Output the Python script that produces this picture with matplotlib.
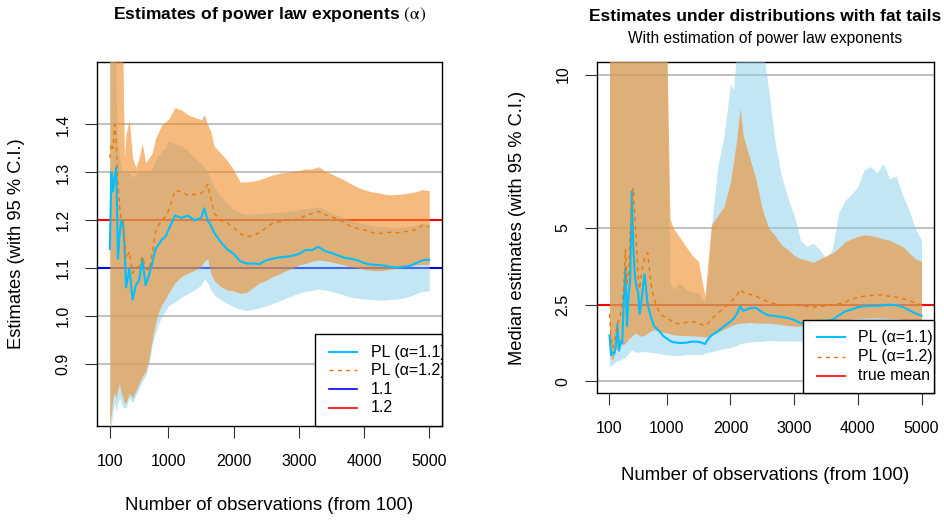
## Estimates with confidence bands

# Imports

import numpy as np
import matplotlib.pyplot as plt
from matplotlib.patches import Rectangle

plt.rcParams['font.family'] = ['Liberation Sans', 'DejaVu Sans']
plt.rcParams['mathtext.fontset'] = 'stix'

# Data: left panel (power law exponents)

nL = [100, 125, 150, 175, 200, 225, 250, 275, 300, 325,
      350, 400, 450, 500, 550, 600, 650, 700, 750, 800, 850, 900, 950, 1000,
      1100, 1200, 1300, 1400, 1500, 1550, 1600, 1650, 1700,
      1800, 1900, 2000, 2100, 2200, 2300, 2400, 2500, 2600, 2700, 2800, 2900, 3000,
      3100, 3200, 3300, 3400, 3500, 3600, 3700, 3800, 3900, 4000, 4100, 4200, 4300,
      4400, 4500, 4600, 4700, 4800, 4900, 5000]

alpha11 = [1.14, 1.30, 1.26, 1.29, 1.31, 1.12, 1.17, 1.20, 1.20, 1.15,
           1.06, 1.10, 1.035, 1.065, 1.075, 1.12, 1.065, 1.085, 1.11, 1.14, 1.15, 1.16, 1.165, 1.18,
           1.21, 1.205, 1.21, 1.20, 1.205, 1.225, 1.20, 1.19, 1.175,
           1.155, 1.14, 1.13, 1.115, 1.11, 1.11, 1.109, 1.117, 1.12, 1.123, 1.124, 1.126, 1.13,
           1.138, 1.138, 1.145, 1.136, 1.132, 1.127, 1.122, 1.12, 1.117, 1.111, 1.108, 1.107, 1.106,
           1.103, 1.102, 1.103, 1.105, 1.111, 1.117, 1.118]
alpha11_lo = [0.75, 0.78, 0.80, 0.82, 0.80, 0.82, 0.83, 0.82, 0.81, 0.81,
              0.81, 0.83, 0.82, 0.835, 0.85, 0.865, 0.875, 0.90, 0.94, 0.965, 0.985, 1.0, 1.01, 1.022,
              1.03, 1.04, 1.047, 1.055, 1.065, 1.078, 1.07, 1.055, 1.045,
              1.035, 1.027, 1.02, 1.015, 1.012, 1.015, 1.018, 1.022, 1.027, 1.032, 1.038, 1.043, 1.048,
              1.052, 1.054, 1.057, 1.055, 1.052, 1.048, 1.044, 1.04, 1.038, 1.036, 1.035, 1.034, 1.034,
              1.035, 1.036, 1.038, 1.042, 1.047, 1.052, 1.053]
alpha11_hi = [1.70, 1.70, 1.70, 1.70, 1.45, 1.36, 1.33, 1.31, 1.30, 1.30,
              1.30, 1.30, 1.29, 1.295, 1.305, 1.30, 1.30, 1.30, 1.31, 1.325, 1.335, 1.345, 1.35, 1.365,
              1.36, 1.355, 1.345, 1.33, 1.32, 1.31, 1.30, 1.285, 1.27,
              1.25, 1.235, 1.222, 1.216, 1.213, 1.213, 1.214, 1.215, 1.216, 1.217, 1.218, 1.22, 1.222,
              1.225, 1.226, 1.228, 1.222, 1.215, 1.21, 1.205, 1.20, 1.196, 1.193, 1.19, 1.188, 1.187,
              1.186, 1.186, 1.186, 1.188, 1.19, 1.193, 1.193]

alpha12 = [1.33, 1.36, 1.35, 1.40, 1.36, 1.28, 1.23, 1.20, 1.20, 1.16,
           1.12, 1.135, 1.09, 1.10, 1.105, 1.125, 1.10, 1.095, 1.13, 1.175, 1.19, 1.20, 1.207, 1.22,
           1.262, 1.26, 1.252, 1.254, 1.256, 1.262, 1.275, 1.245, 1.215,
           1.20, 1.195, 1.185, 1.172, 1.166, 1.168, 1.175, 1.185, 1.194, 1.197, 1.20, 1.201, 1.203,
           1.21, 1.214, 1.219, 1.212, 1.207, 1.203, 1.195, 1.187, 1.183, 1.18, 1.176, 1.172, 1.174,
           1.175, 1.174, 1.176, 1.178, 1.181, 1.19, 1.186]
alpha12_lo = [0.77, 0.80, 0.83, 0.84, 0.83, 0.85, 0.86, 0.84, 0.83, 0.82,
              0.82, 0.84, 0.83, 0.845, 0.86, 0.875, 0.885, 0.91, 0.95, 0.985, 1.01, 1.025, 1.035, 1.048,
              1.07, 1.083, 1.09, 1.096, 1.103, 1.115, 1.12, 1.09, 1.075,
              1.062, 1.055, 1.053, 1.048, 1.05, 1.06, 1.07, 1.075, 1.083, 1.088, 1.095, 1.10, 1.107,
              1.11, 1.115, 1.117, 1.116, 1.113, 1.11, 1.107, 1.103, 1.101, 1.098, 1.096, 1.095, 1.096,
              1.098, 1.10, 1.102, 1.105, 1.107, 1.108, 1.108]
alpha12_hi = [1.70, 1.70, 1.70, 1.70, 1.70, 1.70, 1.70, 1.65, 1.55, 1.33,
              1.38, 1.41, 1.33, 1.31, 1.33, 1.36, 1.32, 1.33, 1.34, 1.37, 1.385, 1.40, 1.405, 1.41,
              1.435, 1.43, 1.42, 1.415, 1.41, 1.42, 1.40, 1.385, 1.355,
              1.34, 1.325, 1.305, 1.28, 1.28, 1.282, 1.285, 1.29, 1.295, 1.298, 1.30, 1.302, 1.304,
              1.307, 1.307, 1.312, 1.303, 1.297, 1.29, 1.284, 1.276, 1.269, 1.264, 1.26, 1.258, 1.255,
              1.253, 1.254, 1.255, 1.257, 1.26, 1.264, 1.262]

# Data: right panel (median estimates)

nR = [100, 125, 150, 175, 200, 225, 250, 275, 300, 325, 350, 375, 400, 425, 450, 475,
      500, 525, 550, 575, 600,
      650, 700, 750, 800, 850, 900, 950, 1000, 1050, 1100,
      1200, 1300, 1400, 1500, 1550, 1600, 1650, 1700,
      1800, 1900, 2000, 2050, 2100, 2150, 2200,
      2300, 2400, 2500, 2600, 2700, 2800, 2900, 3000, 3100, 3200, 3300, 3400, 3500, 3600,
      3700, 3800, 3900, 4000, 4100, 4200, 4300, 4400, 4500, 4600, 4700, 4800, 4900, 5000]

med11 = [1.5, 0.85, 0.95, 0.9, 1.15, 1.85, 1.0, 1.3, 1.25, 2.6, 3.7, 1.8, 2.8, 3.3, 6.2, 4.3,
         3.4, 3.1, 2.9, 2.2, 2.6,
         3.5, 2.5, 2.1, 1.8, 1.7, 1.6, 1.47, 1.4, 1.32, 1.28,
         1.25, 1.26, 1.3, 1.29, 1.26, 1.22, 1.38, 1.5,
         1.63, 1.8, 1.95, 2.05, 2.2, 2.45, 2.3,
         2.38, 2.4, 2.25, 2.15, 2.13, 2.1, 2.07, 2.0, 1.9, 1.88, 1.92, 1.98, 1.97, 2.0,
         2.15, 2.28, 2.34, 2.42, 2.45, 2.46, 2.46, 2.48, 2.5, 2.48, 2.43, 2.33, 2.22, 2.14]
med11_lo = [0.49, 0.52, 0.55, 0.6, 0.65, 0.66, 0.68, 0.7, 0.73, 0.75, 0.8, 0.85, 0.92, 0.98, 1.03, 1.0,
            0.97, 0.95, 0.94, 0.96, 0.97,
            0.97, 0.96, 0.95, 0.93, 0.92, 0.9, 0.88, 0.87, 0.86, 0.84,
            0.84, 0.87, 0.88, 0.87, 0.88, 0.92, 0.95, 0.97,
            1.02, 1.07, 1.1, 1.13, 1.18, 1.23, 1.25,
            1.28, 1.3, 1.31, 1.33, 1.33, 1.32, 1.32, 1.32, 1.31, 1.3, 1.3, 1.31, 1.32, 1.33,
            1.35, 1.37, 1.38, 1.4, 1.4, 1.41, 1.41, 1.4, 1.4, 1.39, 1.38, 1.37, 1.36, 1.35]
med11_hi = [11, 11, 11, 11, 11, 11, 11, 11, 11, 11, 11, 11, 11, 11, 11, 11,
            11, 11, 11, 11, 11,
            11, 11, 11, 11, 11, 11, 11, 11, 3.2, 3.0,
            3.2, 3.0, 2.9, 2.9, 2.7, 2.6, 3.5, 5.0,
            7.0, 8.0, 9.7, 9.5, 11, 11, 11,
            11, 11, 11, 9.5, 7.8, 6.7, 6.0, 5.4, 4.6, 4.4, 4.5, 4.3, 4.0, 4.3,
            5.5, 5.9, 6.1, 6.35, 6.9, 7.0, 6.8, 7.1, 6.6, 6.7, 6.1, 5.6, 5.0, 4.6]

med12 = [2.2, 1.4, 1.1, 1.3, 1.55, 1.9, 2.0, 2.2, 2.6, 3.1, 4.3, 3.2, 3.5, 4.8, 5.9, 6.3,
         5.3, 4.4, 3.4, 3.0, 3.5,
         4.0, 4.2, 3.2, 2.7, 2.4, 2.2, 2.12, 2.07, 2.0, 1.9,
         1.88, 1.92, 1.95, 1.9, 1.85, 1.8, 1.9, 2.02,
         2.23, 2.39, 2.6, 2.68, 2.8, 3.0, 2.9,
         2.84, 2.78, 2.68, 2.58, 2.53, 2.48, 2.48, 2.5, 2.46, 2.44, 2.42, 2.44, 2.47, 2.5,
         2.53, 2.58, 2.68, 2.73, 2.78, 2.8, 2.83, 2.81, 2.77, 2.75, 2.7, 2.64, 2.56, 2.5]
med12_lo = [0.92, 0.75, 0.7, 0.85, 1.03, 1.05, 1.1, 1.15, 1.2, 1.22, 1.25, 1.3, 1.4, 1.42, 1.47, 1.52,
            1.58, 1.55, 1.52, 1.5, 1.47,
            1.5, 1.58, 1.65, 1.68, 1.66, 1.63, 1.6, 1.58, 1.55, 1.52,
            1.5, 1.49, 1.49, 1.47, 1.46, 1.45, 1.45, 1.5,
            1.6, 1.7, 1.8, 1.85, 1.88, 1.9, 1.9,
            1.92, 1.9, 1.9, 1.9, 1.88, 1.85, 1.82, 1.8, 1.8, 1.8, 1.8, 1.82, 1.85, 1.9,
            1.95, 2.0, 2.03, 2.05, 2.06, 2.07, 2.07, 2.06, 2.05, 2.04, 2.02, 2.0, 1.98, 1.95]
med12_hi = [11, 11, 11, 11, 11, 11, 11, 11, 11, 11, 11, 11, 11, 11, 11, 11,
            11, 11, 11, 11, 11,
            11, 11, 11, 11, 11, 11, 11, 11, 5.3, 5.0,
            4.7, 4.4, 4.1, 3.9, 3.3, 2.8, 4.0, 5.1,
            5.4, 5.7, 6.5, 7.2, 7.9, 8.9, 8.0,
            7.3, 6.6, 5.6, 5.0, 4.75, 4.45, 4.3, 4.1, 4.0, 3.95, 3.88, 3.98, 4.1, 4.18,
            4.35, 4.55, 4.65, 4.72, 4.78, 4.76, 4.7, 4.65, 4.6, 4.5, 4.4, 4.2, 4.0, 3.9]

xticks = [100, 1000, 2000, 3000, 4000, 5000]
yticksL = [0.9, 1.0, 1.1, 1.2, 1.3, 1.4]
yticksR = [0, 2.5, 5, 10]
yticklabelsR = ['0', '2.5', '5', '10']

# Colours

blue_line = '#00BFFF'
orange_line = '#EE7600'
blue_band = '#87CEEB'
orange_band = '#F08C28'
grid_col = '#BBBBBB'

## Plotting

fig = plt.figure(figsize=(9.44, 5.21), dpi=100)
axL = fig.add_axes([97/944, 1 - 426/521, 345/944, 364/521])
axR = fig.add_axes([597/944, 1 - 393/521, 337/944, 331/521])

def style_axis(ax, yticks, ylabels, xlab_y, ylab_x, ylabel):
    ax.set_xlim(-96, 5196)
    ax.set_xticks(xticks)
    ax.set_xticklabels([str(t) for t in xticks])
    ax.set_yticks(yticks)
    ax.set_yticklabels(ylabels, rotation=90, va='center')
    ax.tick_params(axis='both', direction='out', length=8.5, width=0.8,
                   labelsize=11.5, color='#333333')
    ax.tick_params(axis='x', pad=11.5)
    ax.tick_params(axis='y', pad=10.5)
    for s in ax.spines.values():
        s.set_linewidth(1.0)
    ax.set_xlabel("Number of observations (from 100)", fontsize=13.4, va='center')
    ax.xaxis.set_label_coords(0.5, xlab_y)
    ax.set_ylabel(ylabel, fontsize=13.2, va='center')
    ax.yaxis.set_label_coords(ylab_x, 0.5)
    for t in yticks:
        ax.axhline(t, color=grid_col, lw=1.3, zorder=1)

def draw_bands(ax, n, lo1, hi1, m1, lo2, hi2, m2):
    ax.fill_between(n, lo1, hi1, color=blue_band, alpha=0.5, lw=0, zorder=3)
    ax.fill_between(n, lo2, hi2, color=orange_band, alpha=0.6, lw=0, zorder=4)
    ax.plot(n, m1, color=blue_line, lw=1.5, zorder=5)
    ax.plot(n, m2, color=orange_line, lw=1.0, ls=(0, (3, 3)), zorder=6)

def draw_legend(ax, x0, height, lx0, lx1, tx, rows):
    ax.add_patch(Rectangle((x0, 0), 1 - x0, height, transform=ax.transAxes,
                           facecolor='white', edgecolor='black', lw=1.0,
                           zorder=10, clip_on=False))
    for y, label, col, ls, lw in rows:
        ax.plot([lx0, lx1], [y, y], transform=ax.transAxes, color=col,
                ls=ls, lw=lw, zorder=11)
        ax.text(tx, y, label, transform=ax.transAxes, fontsize=11.5,
                va='center', ha='left', zorder=11, clip_on=True)

# Left panel

style_axis(axL, yticksL, [f"{t:.1f}" for t in yticksL], -80/364, -80/345,
           "Estimates (with 95 % C.I.)")
axL.set_ylim(0.7715, 1.53)
axL.axhline(1.2, color='red', lw=1.5, zorder=2)
axL.axhline(1.1, color='blue', lw=1.5, zorder=2)
draw_bands(axL, nL, alpha11_lo, alpha11_hi, alpha11, alpha12_lo, alpha12_hi, alpha12)
axL.text(0.5, 1 + 47/364, r"Estimates of power law exponents $(\mathrm{\alpha})$",
         transform=axL.transAxes, ha='center', va='center',
         fontsize=12.6, fontweight='bold')
draw_legend(axL, 218/345, 92/364, 232/345, 260/345, 274/345, [
    (74/364, "PL (α=1.1)", blue_line, '-', 1.5),
    (56/364, "PL (α=1.2)", orange_line, (0, (3, 3)), 1.0),
    (37/364, "1.1", 'blue', '-', 1.2),
    (18/364, "1.2", 'red', '-', 1.2),
])

# Right panel

style_axis(axR, yticksR, yticklabelsR, -82/331, -80/337,
           "Median estimates (with 95 % C.I.)")
axR.set_ylim(-0.378, 10.41)
axR.axhline(2.5, color='red', lw=1.5, zorder=2)
draw_bands(axR, nR, med11_lo, med11_hi, med11, med12_lo, med12_hi, med12)
axR.text(0.5, 1 + 45/331, "Estimates under distributions with fat tails",
         transform=axR.transAxes, ha='center', va='center',
         fontsize=12.5, fontweight='bold')
axR.text(0.5, 1 + 24/331, "With estimation of power law exponents",
         transform=axR.transAxes, ha='center', va='center', fontsize=11.2)
draw_legend(axR, 206/337, 73/331, 220/337, 248/337, 261/337, [
    (55.7/331, "PL (α=1.1)", blue_line, '-', 1.5),
    (36.3/331, "PL (α=1.2)", orange_line, (0, (3, 3)), 1.0),
    (17.3/331, "true mean", 'red', '-', 1.2),
])

plt.savefig("out.png", dpi=100)
